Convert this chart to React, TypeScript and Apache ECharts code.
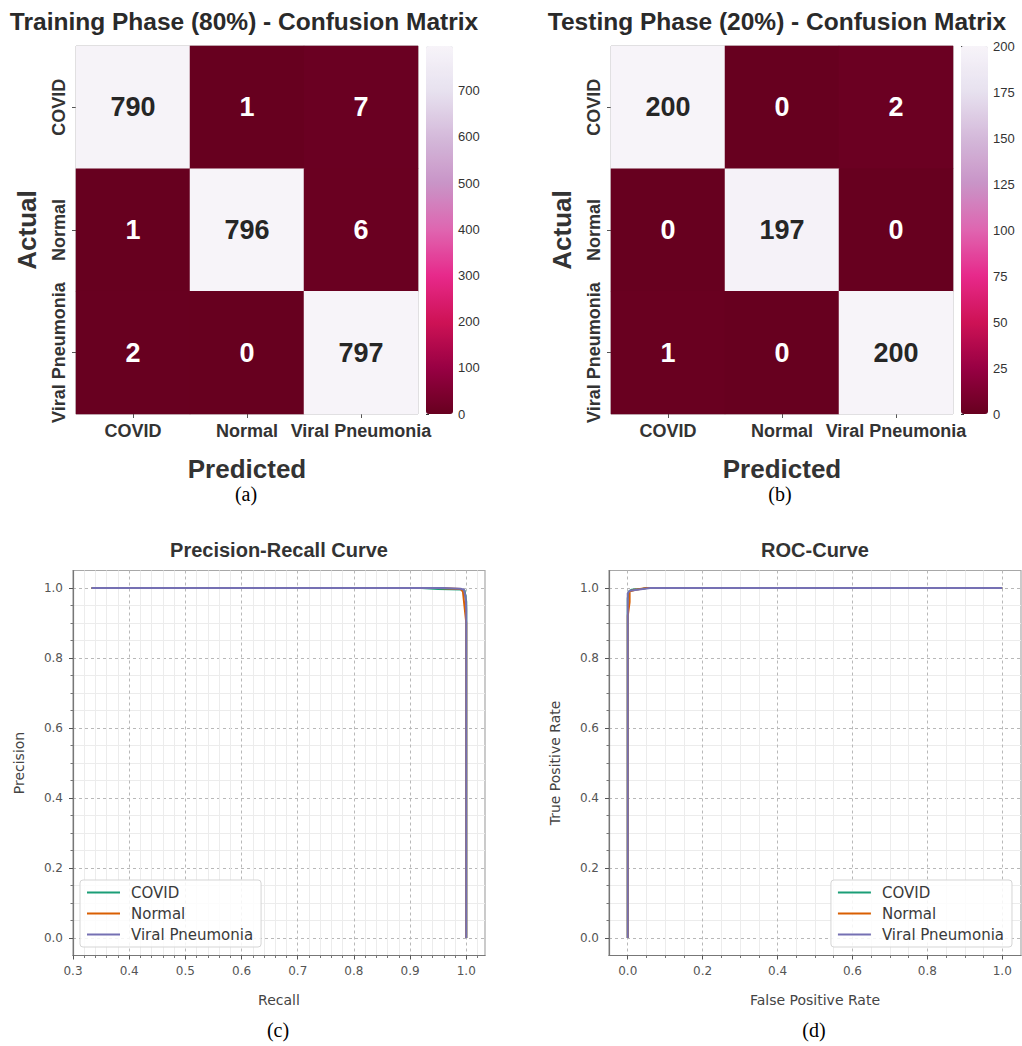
import React, { useEffect, useRef } from "react";
import * as echarts from "echarts";

// ---------- data ----------
const classes = ["COVID", "Normal", "Viral Pneumonia"];
// rows = actual, columns = predicted
const trainMatrix = [
  [790, 1, 7],
  [1, 796, 6],
  [2, 0, 797],
];
const testMatrix = [
  [200, 0, 2],
  [0, 197, 0],
  [1, 0, 200],
];
const trainColorbarTicks = [0, 100, 200, 300, 400, 500, 600, 700];
const testColorbarTicks = [0, 25, 50, 75, 100, 125, 150, 175, 200];

const recallTicks = [0.3, 0.4, 0.5, 0.6, 0.7, 0.8, 0.9, 1.0];
const unitTicks = [0, 0.2, 0.4, 0.6, 0.8, 1.0];

// Precision-Recall curves
const prRecallCovid = [0.333, 0.92, 0.95, 0.99, 0.997, 1.0, 1.0];
const prPrecisionCovid = [1.0, 1.0, 0.997, 0.996, 0.993, 0.96, 0.0];
const prRecallNormal = [0.333, 0.95, 0.99, 0.994, 0.998, 1.0, 1.0];
const prPrecisionNormal = [1.0, 1.0, 0.997, 0.99, 0.93, 0.9, 0.0];
const prRecallViral = [0.333, 0.96, 0.99, 0.996, 0.999, 1.0, 1.0];
const prPrecisionViral = [1.0, 1.0, 0.998, 0.995, 0.97, 0.94, 0.0];

// ROC curves
const rocFprCovid = [0.0, 0.0, 0.003, 0.01, 0.04, 0.05, 1.0];
const rocTprCovid = [0.0, 0.97, 0.99, 0.995, 0.998, 1.0, 1.0];
const rocFprNormal = [0.0, 0.0, 0.005, 0.005, 0.02, 0.05, 1.0];
const rocTprNormal = [0.0, 0.92, 0.96, 0.99, 0.995, 1.0, 1.0];
const rocFprViral = [0.0, 0.0, 0.005, 0.03, 0.06, 1.0];
const rocTprViral = [0.0, 0.985, 0.992, 0.996, 1.0, 1.0];

const classColors = ["#1b9e77", "#d95f02", "#7570b3"];
const purdR = ["#67001f", "#980043", "#ce1256", "#e7298a", "#df65b0", "#c994c7", "#d4b9da", "#e7e1ef", "#f7f4f9"];

// ---------- helpers ----------
const SANS = '"Liberation Sans", Arial, Helvetica, sans-serif';
const DEJAVU = '"DejaVu Sans", Verdana, sans-serif';
const SERIF = '"Liberation Serif", "Times New Roman", serif';

const zip = (xs: number[], ys: number[]) => xs.map((x, i) => [x, ys[i]]);

const matrixData = (m: number[][]) => {
  const max = Math.max(...m.flat());
  const out: any[] = [];
  m.forEach((row, r) =>
    row.forEach((v, c) => {
      out.push({
        value: [c, r, v],
        label: { color: v > max * 0.5 ? "#262626" : "#ffffff" },
      });
    })
  );
  return out;
};

const App: React.FC = () => {
  const ref = useRef<HTMLDivElement>(null);

  useEffect(() => {
    if (!ref.current) return;
    const chart = echarts.init(ref.current, undefined, { renderer: "svg" });
    const trainMax = Math.max(...trainMatrix.flat());
    const testMax = Math.max(...testMatrix.flat());

    const hmGrids = [
      { left: 76, top: 46, width: 342, height: 368 },
      { left: 611, top: 46, width: 342, height: 368 },
    ];
    const cbGrids = [
      { left: 426, top: 46, width: 27, height: 368 },
      { left: 961, top: 46, width: 27, height: 368 },
    ];
    const plotGrids = [
      { left: 73, top: 570.5, width: 412, height: 385 },
      { left: 609, top: 570.5, width: 412, height: 385 },
    ];

    const grid: any[] = [
      ...hmGrids.map((g) => ({ ...g, show: true, borderColor: "#b5b5b5", borderWidth: 1, backgroundColor: "transparent" })),
      ...cbGrids.map((g) => ({ ...g, show: false })),
      ...plotGrids.map((g) => ({ ...g, show: true, borderColor: "#a8a8a8", borderWidth: 1.2, backgroundColor: "#fff" })),
    ];

    const hmX = (gi: number) => ({
      type: "category",
      gridIndex: gi,
      data: classes,
      position: "bottom",
      axisLine: { show: false },
      axisTick: { show: true, alignWithLabel: true, length: 4, lineStyle: { color: "#555" } },
      axisLabel: { fontFamily: SANS, fontWeight: "bold", fontSize: 18, color: "#333", margin: 8, interval: 0 },
      splitLine: { show: false },
      name: "Predicted",
      nameLocation: "middle",
      nameGap: 42,
      nameTextStyle: { fontFamily: SANS, fontWeight: "bold", fontSize: 26, color: "#333" },
    });
    const hmY = (gi: number) => ({
      type: "category",
      gridIndex: gi,
      data: classes,
      inverse: true,
      axisLine: { show: false },
      axisTick: { show: true, alignWithLabel: true, length: 4, lineStyle: { color: "#555" } },
      axisLabel: { fontFamily: SANS, fontWeight: "bold", fontSize: 18, color: "#333", rotate: 90, margin: 8, interval: 0 },
      splitLine: { show: false },
      name: "Actual",
      nameLocation: "middle",
      nameGap: 36,
      nameTextStyle: { fontFamily: SANS, fontWeight: "bold", fontSize: 26, color: "#333" },
    });

    const cbX = (gi: number) => ({ type: "value", gridIndex: gi, show: false, min: 0, max: 1 });
    const cbY = (gi: number, max: number, ticks: number[]) => ({
      type: "value",
      gridIndex: gi,
      position: "right",
      min: 0,
      max,
      axisLine: { show: false },
      axisTick: { show: true, length: 3, customValues: ticks, lineStyle: { color: "#333" } },
      axisLabel: { customValues: ticks, fontFamily: SANS, fontSize: 13, color: "#333", margin: 5 },
      splitLine: { show: false },
    });

    const plotTickLabel = { fontFamily: DEJAVU, fontSize: 12, color: "#555" };
    const nameStyle = { fontFamily: DEJAVU, fontSize: 14, color: "#444" };
    const majorSplit = { show: true, lineStyle: { color: "#b8b8b8", type: [3, 3], width: 1 } };
    const minorSplit = { show: true, lineStyle: { color: "#ececec", width: 1 } };

    const plotAxis = (gi: number, opts: any) => ({
      type: "value",
      gridIndex: gi,
      axisLine: { show: true, onZero: false, lineStyle: { color: "#777", width: 1.2 } },
      axisTick: { show: true, length: 4, customValues: opts.ticks, lineStyle: { color: "#555" } },
      minorTick: { show: true, splitNumber: opts.minorSplit, length: 2.5, lineStyle: { color: "#777" } },
      axisLabel: {
        ...plotTickLabel,
        customValues: opts.ticks,
        margin: opts.margin,
        formatter: (v: number) => v.toFixed(1),
      },
      splitLine: majorSplit,
      minorSplitLine: minorSplit,
      min: opts.min,
      max: opts.max,
      minInterval: opts.step,
      maxInterval: opts.step,
      name: opts.name,
      nameLocation: "middle",
      nameGap: opts.nameGap,
      nameTextStyle: nameStyle,
    });

    const xAxis: any[] = [
      hmX(0),
      hmX(1),
      cbX(2),
      cbX(3),
      plotAxis(4, { ticks: recallTicks, min: 0.3, max: 1.0 + 0.7 * 0.05 / 1.05, step: 0.1, minorSplit: 5, margin: 9, name: "Recall", nameGap: 37 }),
      plotAxis(5, { ticks: unitTicks, min: -0.05, max: 1.05, step: 0.2, minorSplit: 4, margin: 9, name: "False Positive Rate", nameGap: 37 }),
    ];
    const yAxis: any[] = [
      hmY(0),
      hmY(1),
      cbY(2, trainMax, trainColorbarTicks),
      cbY(3, testMax, testColorbarTicks),
      plotAxis(4, { ticks: unitTicks, min: -0.05, max: 1.05, step: 0.2, minorSplit: 4, margin: 10, name: "Precision", nameGap: 47 }),
      plotAxis(5, { ticks: unitTicks, min: -0.05, max: 1.05, step: 0.2, minorSplit: 4, margin: 10, name: "True Positive Rate", nameGap: 47 }),
    ];

    const cellLabel = { show: true, fontFamily: SANS, fontWeight: "bold", fontSize: 27 };
    const lineSeries = (name: string, gi: number, xs: number[], ys: number[], color: string, z: number) => ({
      type: "line",
      name,
      xAxisIndex: gi,
      yAxisIndex: gi,
      data: zip(xs, ys),
      symbol: "none",
      color,
      lineStyle: { color, width: 2 },
      z,
      clip: false,
    });

    const legendCommon = {
      orient: "vertical",
      data: classes,
      icon: "rect",
      itemWidth: 33,
      itemHeight: 2,
      itemGap: 6,
      padding: [5, 8, 5, 7],
      backgroundColor: "rgba(255,255,255,0.85)",
      borderColor: "#d5d5d5",
      borderWidth: 1,
      borderRadius: 3,
      textStyle: { fontFamily: DEJAVU, fontSize: 15, color: "#3a3a3a", padding: [0, 0, 0, 6] },
      selectedMode: false,
    };

    const titleStyle = { fontFamily: SANS, fontWeight: "bold", fontSize: 24.5, color: "#2a2a2a" };
    const subTitleStyle = { fontFamily: SANS, fontWeight: "bold", fontSize: 20, color: "#333" };
    const capStyle = { fontFamily: SERIF, fontWeight: "normal", fontSize: 20, color: "#000" };

    chart.setOption({
      animation: false,
      backgroundColor: "#fff",
      title: [
        { text: "Training Phase (80%) - Confusion Matrix", left: 244, top: 9, textAlign: "center", textStyle: titleStyle, padding: 0 },
        { text: "Testing Phase (20%) - Confusion Matrix", left: 777, top: 9, textAlign: "center", textStyle: titleStyle, padding: 0 },
        { text: "Precision-Recall Curve", left: 279, top: 540, textAlign: "center", textStyle: subTitleStyle, padding: 0 },
        { text: "ROC-Curve", left: 815, top: 540, textAlign: "center", textStyle: subTitleStyle, padding: 0 },
        { text: "(a)", left: 246, top: 484, textAlign: "center", textStyle: capStyle, padding: 0 },
        { text: "(b)", left: 780, top: 484, textAlign: "center", textStyle: capStyle, padding: 0 },
        { text: "(c)", left: 278, top: 1020, textAlign: "center", textStyle: capStyle, padding: 0 },
        { text: "(d)", left: 814, top: 1020, textAlign: "center", textStyle: capStyle, padding: 0 },
      ],
      grid,
      xAxis,
      yAxis,
      visualMap: [
        { type: "continuous", seriesIndex: 0, min: 0, max: trainMax, inRange: { color: purdR }, calculable: false, left: cbGrids[0].left, top: cbGrids[0].top, itemWidth: 27, itemHeight: 368, padding: 0, show: true, hoverLink: false },
        { type: "continuous", seriesIndex: 1, min: 0, max: testMax, inRange: { color: purdR }, calculable: false, left: cbGrids[1].left, top: cbGrids[1].top, itemWidth: 27, itemHeight: 368, padding: 0, show: true, hoverLink: false },
      ],
      legend: [
        { ...legendCommon, left: 80, top: 880 },
        { ...legendCommon, right: 10, top: 880 },
      ],
      series: [
        { type: "heatmap", name: "train", xAxisIndex: 0, yAxisIndex: 0, data: matrixData(trainMatrix), label: cellLabel, emphasis: { disabled: true } },
        { type: "heatmap", name: "test", xAxisIndex: 1, yAxisIndex: 1, data: matrixData(testMatrix), label: cellLabel, emphasis: { disabled: true } },
        lineSeries("COVID", 4, prRecallCovid, prPrecisionCovid, classColors[0], 3),
        lineSeries("Normal", 4, prRecallNormal, prPrecisionNormal, classColors[1], 4),
        lineSeries("Viral Pneumonia", 4, prRecallViral, prPrecisionViral, classColors[2], 5),
        lineSeries("COVID", 5, rocFprCovid, rocTprCovid, classColors[0], 3),
        lineSeries("Normal", 5, rocFprNormal, rocTprNormal, classColors[1], 4),
        lineSeries("Viral Pneumonia", 5, rocFprViral, rocTprViral, classColors[2], 5),
      ],
    });

    return () => chart.dispose();
  }, []);

  return <div ref={ref} style={{ position: "absolute", left: 0, top: 0, width: 1022, height: 1046, background: "#fff" }} />;
};

export default App;
